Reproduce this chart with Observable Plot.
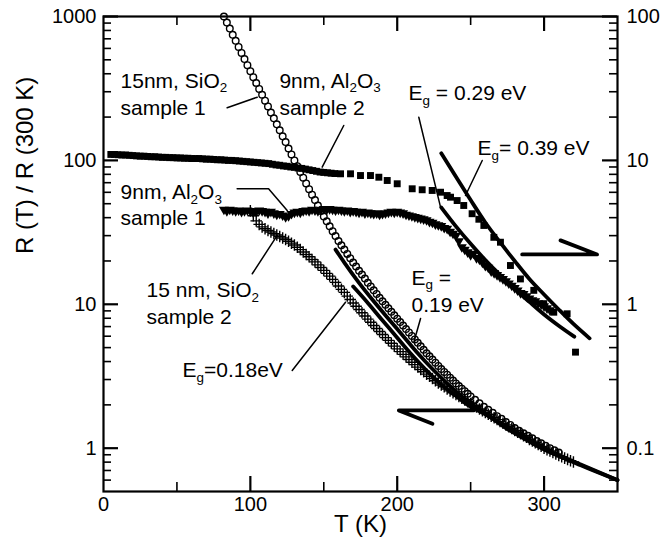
<!DOCTYPE html>
<html><head><meta charset="utf-8">
<script src="https://cdn.jsdelivr.net/npm/d3@7"></script>
<script src="https://cdn.jsdelivr.net/npm/@observablehq/plot@0.6"></script>
<style>
html,body{margin:0;padding:0;background:#fff;}
</style></head><body><div id="chart"></div>
<script>
// ---------- data (T in K; left-axis values R(T)/R(300K)) ----------
// 15 nm SiO2, sample 1 (open circles, left axis)
const sio2S1 = [[82,1000],[84,908],[86,824],[88,746],[90,678],[92,615],[94,558],[96,506],[98,459],[100,417],[102,379],[104,345],[106,314],[108,286],[110,260],[112,237],[114,215],[116,196],[118,178],[120,162],[122,147],[124,134],[126,121],[128,110],[130,100],[132,91.2],[134,83.2],[136,75.9],[138,69.2],[140,63.1],[142,57.8],[144,53.0],[146,48.5],[148,44.5],[150,40.7],[152,37.7],[154,34.8],[156,32.2],[158,29.8],[160,27.5],[162,25.7],[164,24.0],[166,22.4],[168,20.9],[170,19.5],[172,18.3],[174,17.1],[176,16.1],[178,15.1],[180,14.1],[182,13.3],[184,12.5],[186,11.8],[188,11.1],[190,10.5],[192,9.91],[194,9.38],[196,8.87],[198,8.39],[200,7.94],[202,7.52],[204,7.11],[206,6.73],[208,6.37],[210,6.03],[212,5.70],[214,5.40],[216,5.11],[218,4.83],[220,4.57],[222,4.35],[224,4.13],[226,3.93],[228,3.73],[230,3.55],[232,3.39],[234,3.24],[236,3.09],[238,2.95],[240,2.82],[242,2.70],[244,2.59],[246,2.49],[248,2.39],[250,2.29],[253,2.17],[256,2.05],[259,1.94],[262,1.85],[265,1.76],[268,1.67],[271,1.60],[274,1.52],[277,1.45],[280,1.38],[283,1.32],[286,1.27],[289,1.22],[292,1.17],[295,1.12],[298,1.08],[301,1.04],[304,1.00],[307,0.966],[310,0.933]];
// 15 nm SiO2, sample 2 (plus markers, left axis)
const sio2S2 = [[100,44.7],[102,41.2],[104,38.0],[106,35.9],[108,34.5],[110,33.5],[112,32.6],[114,31.8],[116,31.0],[118,30.3],[120,29.6],[122,28.9],[124,28.2],[126,27.4],[128,26.6],[130,25.8],[132,24.9],[134,24.0],[136,23.1],[138,22.2],[140,21.4],[142,20.5],[144,19.7],[146,18.8],[148,18.0],[150,17.2],[152,16.4],[154,15.7],[156,14.9],[158,14.2],[160,13.4],[162,12.7],[164,12.1],[166,11.4],[168,10.8],[170,10.2],[172,9.70],[174,9.20],[176,8.73],[178,8.30],[180,7.89],[182,7.50],[184,7.13],[186,6.79],[188,6.47],[190,6.17],[192,5.87],[194,5.61],[196,5.36],[198,5.12],[200,4.90],[202,4.69],[204,4.49],[206,4.31],[208,4.13],[210,3.96],[212,3.81],[214,3.66],[216,3.52],[218,3.40],[220,3.27],[222,3.16],[224,3.05],[226,2.94],[228,2.84],[230,2.75],[232,2.67],[234,2.58],[236,2.50],[238,2.43],[240,2.36],[242,2.29],[244,2.22],[246,2.16],[248,2.10],[250,2.04],[252,1.99],[254,1.93],[256,1.87],[258,1.82],[260,1.77],[262,1.72],[264,1.67],[266,1.63],[268,1.58],[270,1.53],[272,1.49],[274,1.45],[276,1.41],[278,1.37],[280,1.33],[282,1.29],[284,1.26],[286,1.22],[288,1.19],[290,1.15],[292,1.12],[294,1.09],[296,1.06],[298,1.03],[300,1.00],[302,0.977],[304,0.955],[306,0.933],[308,0.912],[310,0.891],[312,0.871],[314,0.853],[316,0.836],[318,0.818],[320,0.802]];
// 9 nm Al2O3, sample 2 (filled squares, RIGHT axis units)
const al2o3S2 = [[5,11.0],[7.5,11.0],[10,10.95],[12.5,10.9],[15,10.9],[17.5,10.85],[20,10.8],[22.5,10.75],[25,10.7],[27.5,10.7],[30,10.65],[32.5,10.6],[35,10.6],[37.5,10.55],[40,10.5],[42.5,10.5],[45,10.45],[47.5,10.45],[50,10.4],[52.5,10.4],[55,10.35],[57.5,10.35],[60,10.3],[62.5,10.3],[65,10.3],[67.5,10.25],[70,10.2],[72.5,10.2],[75,10.15],[77.5,10.1],[80,10.1],[82.5,10.05],[85,10.0],[87.5,10.0],[90,9.95],[92.5,9.9],[95,9.85],[97.5,9.8],[100,9.75],[102.5,9.7],[105,9.65],[107.5,9.6],[110,9.55],[112.5,9.5],[115,9.4],[117.5,9.3],[120,9.25],[122.5,9.15],[125,9.1],[127.5,9.0],[130,8.95],[132.5,8.85],[135,8.8],[137.5,8.7],[140,8.6],[142.5,8.5],[145,8.4],[147.5,8.3],[150,8.25],[152.5,8.2],[155,8.15],[157.5,8.1],[161.4,8.07],[168.2,8.07],[175,7.85],[181.8,7.85],[187.5,7.64],[193.2,7.25],[200,6.88],[210.2,6.35],[217,6.25],[223.8,6.18],[229.5,6.01],[234,5.7],[236.3,5.55],[240.8,5.26],[245.3,4.86],[251,4.26],[255.6,3.9],[259,3.53],[265.8,2.92],[270.3,2.7],[277.1,1.86],[283.9,1.5],[293,1.25],[299.8,1.01],[306.6,0.881],[315.7,0.859],[321.4,0.465]];
// 9 nm Al2O3, sample 1 (filled down-triangles, RIGHT axis units)
const al2o3S1 = [[82,4.55],[84,4.45],[86,4.55],[88,4.5],[90,4.45],[92,4.5],[94,4.4],[96,4.45],[98,4.5],[100,4.45],[102,4.35],[104,4.4],[106,4.5],[108,4.45],[110,4.4],[112,4.3],[114,4.4],[116,4.3],[118,4.2],[120,4.25],[122,4.15],[124,4.05],[126,4.1],[128,4.25],[130,4.35],[132,4.4],[134,4.35],[136,4.45],[138,4.5],[140,4.45],[142,4.55],[144,4.5],[146,4.45],[148,4.55],[150,4.6],[152,4.55],[154,4.6],[156,4.55],[158,4.5],[160,4.55],[162,4.5],[164,4.45],[166,4.5],[168,4.4],[170,4.45],[172,4.4],[174,4.35],[176,4.4],[178,4.3],[180,4.35],[182,4.3],[184,4.25],[186,4.3],[188,4.2],[190,4.25],[192,4.3],[194,4.35],[196,4.4],[198,4.35],[200,4.4],[202,4.35],[204,4.3],[206,4.2],[208,4.15],[210,4.1],[212,4.05],[214,4.0],[216,3.95],[218,3.9],[220,3.85],[222,3.75],[224,3.7],[226,3.6],[228,3.55],[230,3.5],[232,3.4],[234,3.35],[236,3.2],[238,3.1],[240,3.0],[242,2.75],[244,2.5],[246,2.4],[248,2.3],[250,2.2],[252,2.25],[254,2.1],[256,2.05],[258,1.95],[260,1.85],[262,1.8],[264,1.7],[266,1.65],[268,1.6],[270,1.55],[272,1.5],[274,1.45],[276,1.4],[278,1.35],[280,1.3],[282,1.25],[284,1.2],[286,1.18],[288,1.14],[290,1.1],[292,1.07],[294,1.05],[296,1.02],[298,1.0],[300,0.97],[302,0.94],[304,0.91]];
// activation fits
const fit018 = [[170,13.3],[179,10.5],[189,7.94],[199,6.03],[209,4.57],[219,3.55],[229,2.82],[239,2.35],[248,2.0],[260,1.72],[270,1.5],[280,1.32],[290,1.15],[300,1.0],[325,0.76],[350,0.6]];
const fit019 = [[158,24.0],[164,19.5],[174,14.1],[184,10.5],[194,7.94],[204,6.03],[214,4.57],[224,3.55],[234,2.82],[244,2.29],[256,1.85],[265,1.60],[274,1.38],[283,1.22],[295,1.04],[300,0.98],[325,0.77],[350,0.6]];
const fit029 = [[230,4.71],[240,3.48],[250,2.63],[260,2.03],[270,1.6],[280,1.28],[290,1.04],[300,0.85],[310,0.71],[320.6,0.596]]; // right axis units
const fit039 = [[230,11.2],[240,7.7],[250,5.3],[260,3.7],[270,2.7],[280,2.0],[290,1.5],[300,1.17],[310,0.92],[320,0.73],[331,0.58]]; // right axis units
const rightToLeft = 10; // right-axis value × 10 = left-axis value

// ---------- axis ticks ----------
const xMajor = [100, 200, 300];
const xMinor = [50, 150, 250];
const xLabels = [0, 100, 200, 300];
const leftLabels = [1, 10, 100, 1000];
const rightLabels = [0.1, 1, 10, 100];
const yMinor = [0.6,0.7,0.8,0.9,2,3,4,5,6,7,8,9,20,30,40,50,60,70,80,90,200,300,400,500,600,700,800,900];

// ---------- annotations (T, left-axis value of text baseline) ----------
const labels = [
  {T:11.6, v:321, text:"15nm, SiO_2"},
  {T:11.6, v:206.8, text:"sample 1"},
  {T:119.8, v:321, text:"9nm, Al_2O_3"},
  {T:119.8, v:206.8, text:"sample 2"},
  {T:11.6, v:53.5, text:"9nm, Al_2O_3"},
  {T:11.6, v:35.3, text:"sample 1"},
  {T:29.3, v:11.2, text:"15 nm, SiO_2"},
  {T:29.3, v:7.3, text:"sample 2"},
  {T:53.8, v:3.10, text:"E_g=0.18eV"},
  {T:209.7, v:13.7, text:"E_g ="},
  {T:209.7, v:8.81, text:"0.19 eV"},
  {T:207.7, v:260.8, text:"E_g = 0.29 eV"},
  {T:254.7, v:108.2, text:"E_g= 0.39 eV"}
];
const pointers = [
  {id:1, pts:[[84.2,232],[104.7,275]]},
  {id:2, pts:[[163.6,174.8],[148.9,89.7]]},
  {id:3, pts:[[91.0,63.5],[112.4,63.5],[125.1,44.9]]},
  {id:4, pts:[[101.3,16.3],[118.3,30.1]]},
  {id:5, pts:[[128.5,3.47],[164.8,10.34]]},
  {id:6, pts:[[215.9,7.97],[211.3,5.45]]},
  {id:7, pts:[[214.7,199.6],[229.5,47.3]]},
  {id:8, pts:[[257.9,99.8],[246.5,57.0]]}
];
const arrows = [
  {id:"right", pts:[[285.1,22.2],[336.1,22.2],[311.2,27.8]]},
  {id:"left", pts:[[252.1,1.83],[201.1,1.83],[224.0,1.48]]}
];

// ---------- build ----------
const flat = (list) => list.flatMap(d => d.pts.map(p => ({id:d.id, T:p[0], v:p[1]})));
const pointerRows = flat(pointers);
const arrowRows = flat(arrows);
const right = (arr) => arr.map(d => [d[0], d[1] * rightToLeft]);

const W = 663, H = 554, mL = 103, mR = 46, mT = 16, mB = 63;
const innerW = W - mL - mR, innerH = H - mT - mB;
const FONT = "'Liberation Sans', Arial, Helvetica, sans-serif";

const plot = Plot.plot({
  width: W, height: H,
  marginLeft: mL, marginRight: mR, marginTop: mT, marginBottom: mB,
  x: {domain: [0, 350], axis: null},
  y: {type: "log", domain: [0.5, 1000], axis: null},
  style: {fontFamily: FONT, background: "white", color: "black", overflow: "visible"},
  marks: [
    // ticks (inward)
    Plot.tickY(leftLabels, {y: d => d, insetRight: innerW - 15, strokeWidth: 2.2}),
    Plot.tickY(yMinor, {y: d => d, insetRight: innerW - 8, strokeWidth: 1.6}),
    Plot.tickY(rightLabels, {y: d => d * rightToLeft, insetLeft: innerW - 15, strokeWidth: 2.2}),
    Plot.tickY(yMinor, {y: d => d, insetLeft: innerW - 8, strokeWidth: 1.6}),
    Plot.tickX(xMajor, {x: d => d, insetTop: innerH - 15, strokeWidth: 2.2}),
    Plot.tickX(xMinor, {x: d => d, insetTop: innerH - 9, strokeWidth: 1.6}),
    Plot.tickX(xMajor, {x: d => d, insetBottom: innerH - 15, strokeWidth: 2.2}),
    Plot.tickX(xMinor, {x: d => d, insetBottom: innerH - 9, strokeWidth: 1.6}),
    Plot.frame({strokeWidth: 2.2}),
    // tick labels
    Plot.text(leftLabels, {y: d => d, text: d => String(d), frameAnchor: "left", dx: -7, textAnchor: "end", fontSize: 20}),
    Plot.text(rightLabels, {y: d => d * rightToLeft, text: d => String(d), frameAnchor: "right", dx: 9, textAnchor: "start", fontSize: 20}),
    Plot.text(xLabels, {x: d => d, text: d => String(d), frameAnchor: "bottom", dy: 19, fontSize: 20}),
    Plot.text(["T (K)"], {frameAnchor: "bottom", dy: 40, fontSize: 24}),
    Plot.text(["R (T) / R (300 K)"], {frameAnchor: "left", dx: -78, rotate: -90, fontSize: 24}),
    // fit lines
    Plot.line(fit018, {x: d => d[0], y: d => d[1], strokeWidth: 3.8, curve: "monotone-x"}),
    Plot.line(fit019, {x: d => d[0], y: d => d[1], strokeWidth: 3.8, curve: "monotone-x"}),
    Plot.line(right(fit029), {x: d => d[0], y: d => d[1], strokeWidth: 3.8, curve: "monotone-x"}),
    Plot.line(right(fit039), {x: d => d[0], y: d => d[1], strokeWidth: 3.8, curve: "monotone-x"}),
    // data
    Plot.dot(sio2S2, {x: d => d[0], y: d => d[1], symbol: "plus", r: 3.8, stroke: "black", strokeWidth: 1.4}),
    Plot.dot(sio2S1, {x: d => d[0], y: d => d[1], symbol: "circle", r: 3.3, stroke: "black", fill: "none", strokeWidth: 1.4}),
    Plot.dot(right(al2o3S1), {x: d => d[0], y: d => d[1], symbol: "triangle", r: 3.7, fill: "black", rotate: 180}),
    Plot.dot(right(al2o3S2), {x: d => d[0], y: d => d[1], symbol: "square", r: 3.9, fill: "black"}),
    // annotation pointers and arrows
    Plot.line(pointerRows, {x: "T", y: "v", z: "id", strokeWidth: 1.5}),
    Plot.line(arrowRows, {x: "T", y: "v", z: "id", strokeWidth: 3.8}),
    Plot.text(labels, {x: "T", y: "v", text: "text", textAnchor: "start", lineAnchor: "bottom", fontSize: 21})
  ]
});

// subscripts: "_x" -> lowered small x
function applySubscripts(root) {
  const ns = "http://www.w3.org/2000/svg";
  root.querySelectorAll("text").forEach(t => {
    const s = t.textContent;
    if (!s.includes("_")) return;
    const fs = 21, d = 0.22 * fs;
    while (t.firstChild) t.removeChild(t.firstChild);
    let down = false, buf = "";
    const flush = () => {
      if (!buf) return;
      const sp = document.createElementNS(ns, "tspan");
      sp.textContent = buf;
      if (down) { sp.setAttribute("dy", -d); down = false; }
      t.appendChild(sp); buf = "";
    };
    for (let i = 0; i < s.length; i++) {
      if (s[i] === "_" && i + 1 < s.length) {
        flush();
        const sub = document.createElementNS(ns, "tspan");
        sub.textContent = s[i + 1];
        sub.setAttribute("font-size", 0.64 * fs);
        if (!down) sub.setAttribute("dy", d);
        down = true;
        t.appendChild(sub);
        i++;
      } else buf += s[i];
    }
    flush();
  });
}
applySubscripts(plot);
document.getElementById("chart").appendChild(plot);
</script>
</body></html>
